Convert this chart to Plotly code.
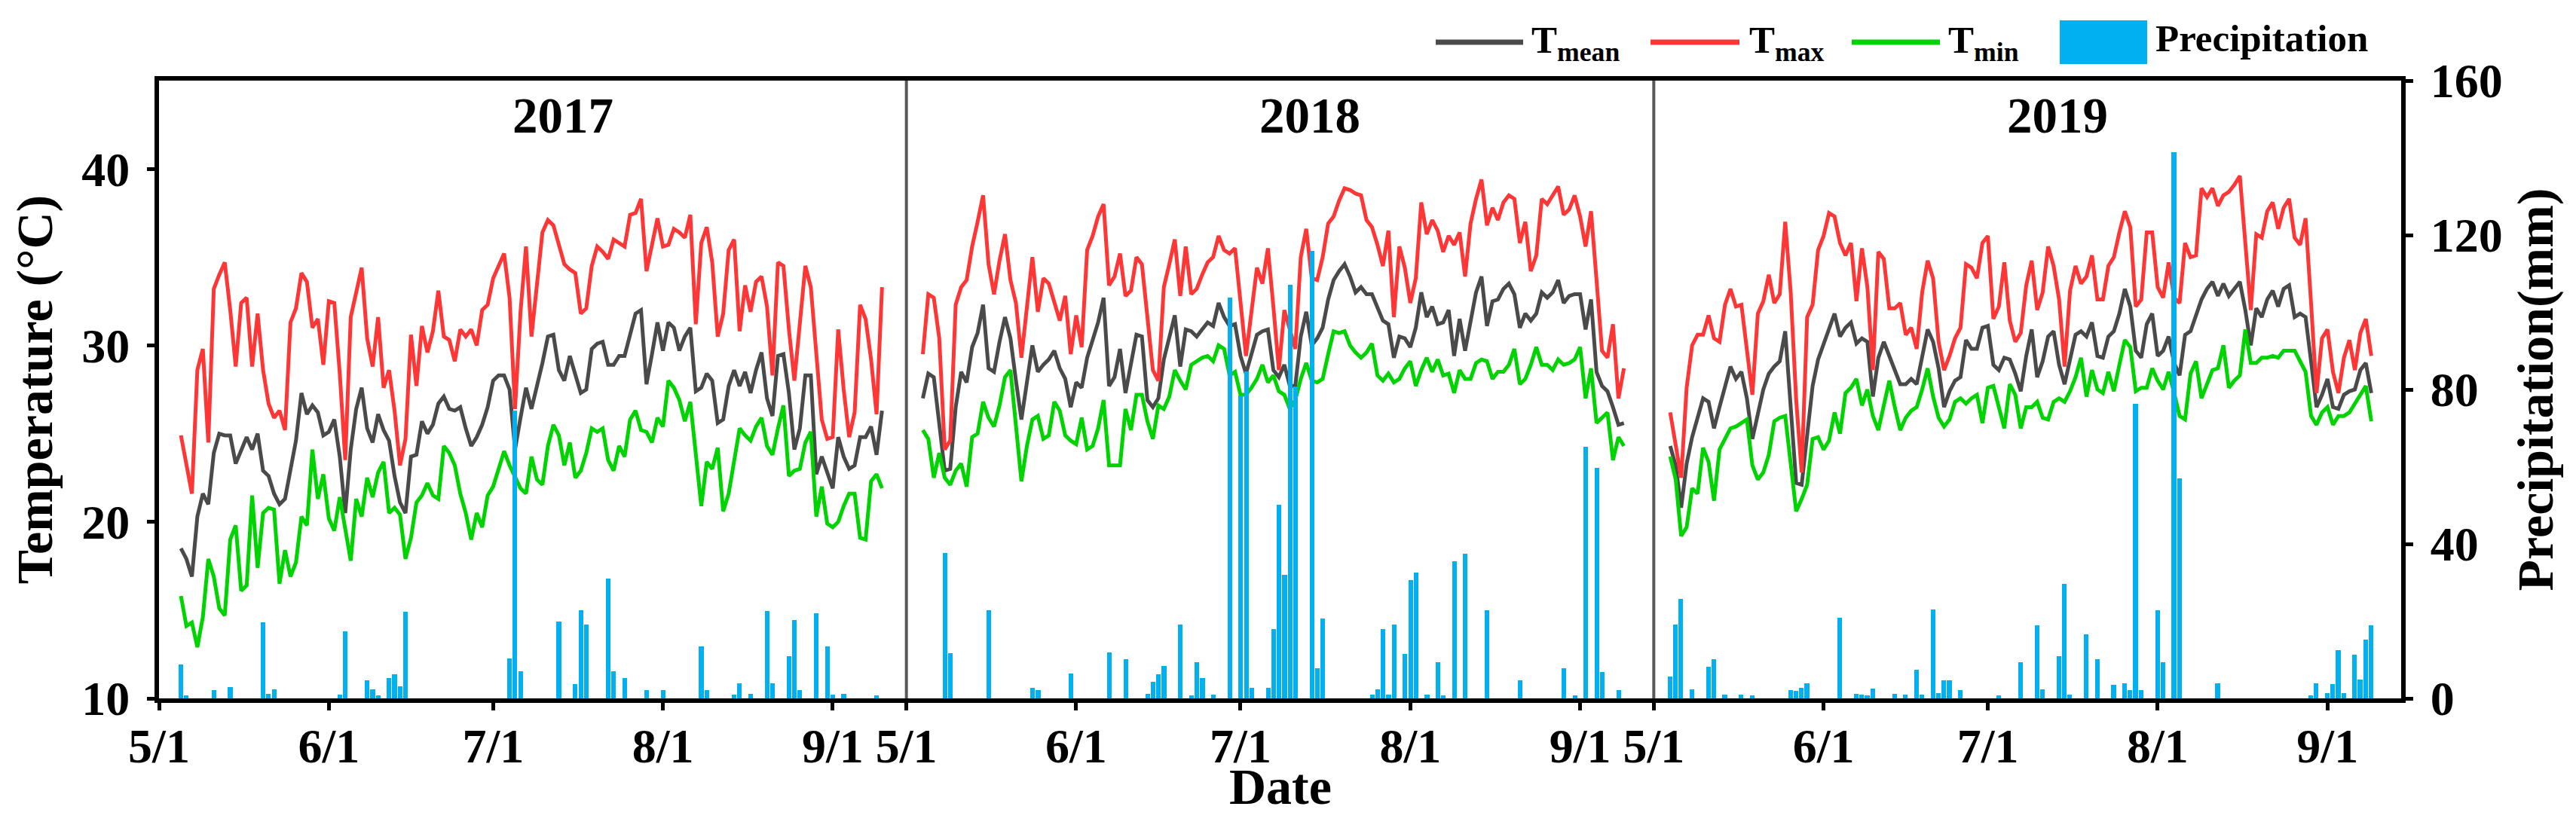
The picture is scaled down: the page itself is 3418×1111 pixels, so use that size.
import pandas as pd
import plotly.graph_objects as go

# ---------------- data ----------------
YEARS = [2017, 2018, 2019]
START = {2017: "2017-05-05", 2018: "2018-05-04", 2019: "2019-05-04"}

TMAX_2017 = [24.9, 23.1, 21.6, 28.6, 29.8, 24.5, 33.2, 34.0, 34.7, 32.0, 28.8, 32.4, 32.7, 28.8, 31.8, 28.6,
             26.7, 25.9, 26.3, 25.2, 31.3, 32.1, 34.1, 33.6, 31.0, 31.5, 28.9, 32.5, 32.4, 28.4, 23.5, 31.6,
             33.1, 34.4, 30.4, 28.8, 31.6, 27.6, 28.6, 26.3, 23.2, 24.7, 30.6, 27.7, 31.1, 29.6, 30.8, 33.1,
             30.5, 30.3, 29.1, 30.9, 30.5, 30.9, 30.0, 32.0, 32.3, 33.8, 34.5, 35.2, 32.7, 26.4, 31.9, 35.6,
             30.5, 33.5,
             36.4, 37.1, 36.8, 35.7, 34.6, 34.3, 34.1, 31.8, 32.1, 34.5, 35.6, 35.3, 34.9, 36.0, 35.8, 35.6,
             37.4, 37.5, 38.3, 34.2, 35.7, 37.2, 35.6, 35.7, 36.6, 36.4, 36.1, 37.4, 31.2, 35.8, 36.7, 34.7,
             30.5, 31.8, 35.4, 36.0, 30.8, 33.4, 31.9, 33.6, 33.9, 32.2, 28.3, 34.7, 34.5, 30.9, 28.0, 31.0,
             34.5, 33.3, 29.4, 25.8, 24.7, 24.8, 30.9, 27.5, 24.8, 26.2, 32.3, 31.5, 29.2, 26.1, 33.3]
TMEAN_2017 = [18.5, 17.9, 16.9, 20.3, 21.6, 21.0, 23.9, 25.0, 24.9, 24.9, 23.3, 24.1, 24.8, 24.1, 25.0, 22.9,
              22.6, 21.6, 21.0, 21.3, 23.0, 24.6, 27.3, 26.1, 26.6, 26.2, 24.9, 25.1, 25.8, 23.7, 20.5, 24.1,
              26.4, 27.6, 25.3, 24.5, 26.1, 25.2, 24.6, 22.6, 21.1, 20.5, 23.7, 23.8, 25.7, 25.0, 25.5, 26.7,
              27.1, 26.4, 26.3, 26.5, 25.3, 24.3, 24.8, 25.5, 26.5, 28.0, 28.3, 28.3, 27.5, 24.1, 25.9, 27.6,
              26.4, 27.6,
              29.0, 30.5, 30.6, 28.6, 28.0, 29.4, 28.3, 27.3, 27.5, 29.8, 30.1, 30.2, 28.9, 28.9, 29.4, 29.4,
              30.6, 31.8, 32.0, 27.8, 29.5, 31.3, 29.7, 31.3, 31.0, 29.7, 30.5, 31.0, 27.4, 27.6, 28.4, 28.0,
              25.6, 25.8, 27.7, 28.6, 27.7, 28.5, 27.3, 28.6, 29.6, 27.0, 26.0, 29.4, 29.5, 27.3, 24.1, 25.3,
              28.3, 28.3, 22.7, 23.7, 22.8, 21.9, 24.8, 23.7, 23.0, 23.2, 24.8, 24.8, 25.4, 23.8, 26.3]
TMIN_2017 = [15.8, 14.1, 14.3, 12.9, 14.6, 17.9, 16.9, 15.1, 14.7, 19.0, 19.8, 16.1, 16.4, 21.5, 17.4, 20.5,
             20.8, 20.7, 16.5, 18.4, 16.9, 17.7, 20.3, 19.8, 24.1, 21.3, 22.7, 20.2, 19.5, 21.4, 19.6, 17.8,
             21.3, 20.3, 22.5, 21.4, 22.8, 23.4, 20.5, 20.8, 20.4, 17.9, 19.1, 21.1, 21.5, 22.2, 21.5, 21.3,
             24.3, 23.9, 23.2, 21.6, 20.5, 19.0, 20.5, 19.7, 21.5, 22.0, 23.0, 24.0, 23.2, 22.6, 21.9, 21.6,
             23.7, 22.4,
             22.1, 24.3, 25.5, 24.9, 23.2, 24.5, 22.5, 22.9, 23.9, 25.3, 25.1, 25.3, 23.5, 22.9, 24.3, 23.7,
             25.8, 26.3, 25.2, 25.1, 24.5, 25.9, 25.4, 28.0, 27.6, 26.9, 25.7, 26.8, 23.7, 20.9, 23.4, 23.0,
             24.2, 20.6, 21.6, 23.6, 25.3, 24.9, 24.6, 25.4, 25.9, 24.3, 23.8, 25.3, 26.6, 22.6, 22.9, 23.0,
             24.5, 25.1, 20.3, 22.0, 19.9, 19.7, 20.0, 20.9, 21.6, 21.6, 19.1, 19.0, 22.3, 22.7, 21.9]
# precipitation: day offset after 1 May, and amount (mm)
P2017_DAY = [4, 5, 10, 13, 19, 20, 21, 33, 34, 38, 39, 40, 42, 43, 44, 45, 64, 65, 66, 73, 76, 77, 78, 82,
             83, 85, 89, 92, 99, 100, 105, 106, 108, 111, 112, 115, 116, 117, 120, 122, 123, 125, 131]
P2017_MM = [8.7, 0.7, 2.2, 3.0, 19.7, 1.1, 2.3, 1.0, 17.4, 4.7, 2.3, 0.7, 5.3, 6.3, 3.1, 22.5, 10.3, 74.6,
            7.1, 20.0, 3.7, 22.8, 19.2, 31.1, 7.0, 5.2, 2.1, 2.1, 13.5, 2.1, 0.9, 4.0, 1.1, 22.6, 3.9, 10.9,
            20.3, 2.1, 22.1, 13.5, 1.0, 1.1, 0.7]

TMAX_2018 = [29.5, 32.9, 32.7, 30.4, 24.1, 24.6, 32.3, 33.3, 33.7, 35.6, 37.0, 38.5, 34.6, 32.9, 34.8, 36.3,
             33.7, 32.4, 29.3, 32.2, 35.0, 31.9, 33.8, 33.5, 32.4, 31.4, 32.8, 29.5, 31.7, 29.9, 35.4, 36.2,
             37.3, 38.0, 33.4, 33.9, 35.2, 32.8, 33.1, 35.0, 34.6, 31.5, 28.6, 28.0, 33.3, 34.6, 36.0, 32.8,
             35.6, 32.9, 33.2, 34.0, 34.7, 35.0, 36.2, 35.4, 35.2, 35.5, 32.4, 29.4, 31.9, 34.4, 33.5, 35.5,
             32.2, 28.6,
             32.0, 30.8, 29.8, 35.0, 36.6, 33.8, 33.7, 35.0, 36.9, 37.3, 38.2, 38.9, 38.8, 38.6, 38.5, 37.1,
             36.7, 35.7, 34.5, 36.5, 31.6, 35.6, 34.4, 32.4, 33.8, 38.1, 36.3, 37.1, 36.5, 35.3, 36.2, 35.7,
             36.4, 33.9, 36.9, 38.3, 39.4, 36.8, 37.8, 37.1, 38.1, 38.5, 38.3, 35.8, 37.0, 34.2, 35.1, 38.3,
             38.0, 38.5, 39.0, 37.4, 37.7, 38.5, 37.3, 35.6, 37.6, 33.7, 29.7, 29.3, 31.2, 27.0, 28.7]
TMEAN_2018 = [27.0, 28.4, 28.2, 25.7, 22.9, 23.0, 26.5, 28.5, 27.9, 29.9, 30.7, 32.3, 28.7, 28.5, 30.2, 31.6,
              30.4, 28.0, 25.8, 27.9, 30.0, 28.5, 28.9, 29.2, 29.7, 28.7, 28.1, 26.5, 27.9, 27.6, 29.3, 30.3,
              31.3, 32.7, 27.7, 28.2, 29.8, 27.3, 28.9, 30.6, 30.5, 26.9, 26.5, 27.0, 29.2, 30.5, 31.7, 28.8,
              30.9, 30.8, 30.5, 30.9, 31.3, 31.1, 32.4, 31.6, 31.1, 31.2, 29.4, 28.4, 29.5, 30.6, 30.8, 30.9,
              28.6, 28.2,
              28.9, 27.7, 27.7, 30.5, 31.9, 30.0, 30.4, 31.0, 32.6, 33.7, 34.2, 34.6, 33.9, 33.0, 33.3, 32.9,
              32.9, 32.2, 31.4, 31.2, 29.3, 30.5, 30.4, 29.9, 31.0, 33.0, 31.6, 32.2, 31.2, 31.3, 32.0, 29.4,
              31.5, 29.7, 31.3, 33.0, 33.9, 31.1, 32.5, 32.6, 33.2, 33.5, 32.9, 31.0, 31.8, 31.4, 31.8, 33.0,
              32.7, 33.0, 33.7, 32.4, 32.8, 32.9, 32.9, 30.9, 32.6, 28.5, 27.7, 27.4, 26.5, 25.5, 25.6]
TMIN_2018 = [25.2, 24.7, 22.5, 23.9, 22.5, 22.1, 22.9, 23.3, 22.0, 24.8, 25.0, 26.8, 25.9, 25.4, 26.6, 28.2,
             28.6, 25.3, 22.3, 24.3, 25.8, 26.0, 24.7, 24.9, 26.8, 26.3, 24.9, 24.6, 24.4, 25.9, 24.1, 24.3,
             25.3, 26.9, 23.2, 23.2, 23.2, 26.4, 25.2, 27.2, 27.2, 25.7, 24.7, 26.6, 26.4, 27.1, 28.6, 28.0,
             27.5, 28.9, 29.1, 29.3, 29.4, 29.1, 30.0, 29.8, 28.3, 28.5, 27.2, 27.2, 27.6, 28.1, 28.9, 27.9,
             28.3, 27.4,
             27.2, 26.4, 26.9, 28.1, 29.0, 28.0, 27.9, 28.1, 29.5, 30.8, 30.7, 30.8, 30.0, 29.6, 29.3, 29.6,
             30.1, 28.3, 28.0, 28.4, 27.9, 28.1, 28.7, 29.1, 27.7, 28.6, 29.3, 28.5, 29.2, 28.3, 28.4, 27.3,
             28.6, 28.1, 28.1, 29.0, 29.2, 29.1, 28.1, 28.5, 28.5, 28.9, 29.8, 27.8, 28.1, 28.9, 29.9, 28.9,
             28.9, 28.6, 29.2, 28.9, 29.0, 29.2, 29.9, 27.0, 28.7, 25.6, 25.9, 26.2, 23.5, 24.8, 24.3]
P2018_DAY = [7, 8, 15, 23, 24, 30, 37, 40, 44, 45, 46, 47, 50, 52, 53, 54, 56, 59, 61, 62, 63, 66, 67, 68,
             69, 70, 71, 74, 75, 76, 85, 86, 87, 88, 89, 91, 92, 93, 95, 97, 98, 100, 102, 106, 112, 120,
             122, 124, 126, 127, 130]
P2018_MM = [37.6, 11.8, 22.8, 2.8, 2.2, 6.5, 11.9, 10.2, 1.2, 4.2, 6.3, 8.4, 19.1, 0.7, 9.3, 5.2, 0.9,
            103.9, 78.4, 84.7, 2.8, 2.8, 17.9, 50.1, 32.0, 107.1, 80.7, 115.9, 7.9, 20.7, 1.0, 2.4, 17.9,
            1.0, 19.2, 11.6, 30.6, 32.5, 1.0, 9.3, 0.7, 35.5, 37.4, 22.8, 4.7, 7.9, 0.7, 65.2, 59.7, 6.8, 2.2]

TMAX_2019 = [26.2, 24.3, 22.5, 27.6, 30.0, 30.6, 30.6, 31.7, 30.4, 30.2, 32.3, 33.2, 32.2, 32.3, 29.8, 27.2,
             31.8, 32.5, 34.0, 32.4, 32.9, 37.0, 33.0, 26.9, 22.8, 31.6, 32.3, 35.4, 36.2, 37.5, 37.3, 35.8,
             35.1, 35.8, 32.5, 35.5, 33.3, 28.6, 35.3, 34.9, 32.1, 32.1, 32.4, 30.6, 31.0, 29.8, 33.0, 34.8,
             33.8, 30.2, 28.6, 29.4, 30.4, 31.0, 34.6, 34.4, 33.8, 35.8, 36.2, 31.5, 32.2, 34.7, 31.4, 30.2,
             30.7, 33.4,
             34.8, 32.0, 33.0, 35.6, 34.5, 32.6, 28.8, 33.1, 34.5, 33.5, 33.9, 35.1, 32.6, 32.6, 34.5, 35.0,
             36.4, 37.6, 36.7, 32.2, 32.6, 36.4, 36.4, 33.3, 32.7, 34.7, 32.7, 32.4, 35.8, 35.0, 35.1, 38.9,
             38.4, 38.9, 37.9, 38.5, 38.7, 39.1, 39.6, 35.8, 32.0, 36.3, 36.1, 37.6, 38.1, 36.6, 37.8, 38.3,
             36.1, 35.7, 37.2, 32.4, 27.3, 30.4, 30.9, 28.5, 27.3, 29.3, 30.3, 28.6, 30.7, 31.5, 29.4]
TMEAN_2019 = [24.3, 23.2, 20.8, 23.3, 24.8, 25.9, 27.0, 26.8, 25.3, 26.5, 27.6, 28.8, 28.1, 28.5, 27.0, 24.7,
              26.1, 27.5, 28.4, 28.8, 29.1, 30.8, 26.5, 22.2, 22.1, 24.9, 27.7, 29.2, 30.1, 31.0, 31.8, 30.5,
              31.0, 31.3, 30.1, 30.4, 30.2, 27.1, 29.3, 30.2, 29.4, 28.7, 27.8, 27.8, 28.1, 27.8, 29.4, 30.9,
              30.2, 28.7, 26.5, 27.4, 28.0, 28.2, 30.3, 29.8, 29.8, 31.0, 31.1, 28.9, 28.6, 29.3, 29.2, 28.4,
              27.4, 29.4,
              30.9, 28.2, 29.1, 30.5, 30.8, 28.9, 27.8, 29.3, 30.6, 30.8, 30.5, 31.3, 29.4, 29.3, 30.5, 30.8,
              31.8, 33.2, 32.2, 29.7, 29.3, 31.2, 31.8, 29.4, 29.7, 30.5, 29.0, 28.3, 30.6, 30.8, 31.7, 32.6,
              33.2, 33.6, 32.8, 33.5, 32.8, 33.2, 33.6, 32.0, 30.0, 32.1, 31.6, 32.6, 33.1, 32.2, 33.2, 33.4,
              31.6, 31.8, 31.6, 29.1, 26.5, 27.2, 28.1, 26.5, 26.4, 27.2, 27.4, 27.5, 28.6, 29.0, 27.3]
TMIN_2019 = [23.7, 22.4, 19.2, 19.7, 21.9, 21.6, 24.2, 23.4, 21.2, 24.1, 24.7, 25.3, 25.4, 25.6, 25.8, 23.2,
             22.4, 22.8, 23.8, 25.7, 25.9, 26.0, 23.1, 20.6, 21.3, 22.1, 24.7, 24.8, 24.1, 24.6, 26.2, 25.0,
             27.3, 27.6, 28.1, 26.6, 27.5, 26.0, 25.2, 26.5, 28.0, 26.5, 25.2, 25.9, 26.3, 26.5, 27.5, 28.7,
             27.1, 25.9, 25.4, 25.8, 26.8, 27.0, 26.7, 27.0, 27.2, 25.6, 27.6, 27.7, 26.4, 25.3, 27.8, 27.2,
             25.3, 26.5,
             26.5, 26.8, 25.9, 25.8, 26.8, 27.0, 26.8, 27.4, 28.2, 29.3, 27.1, 28.6, 27.5, 27.3, 28.5, 27.4,
             28.9, 30.3, 29.9, 27.4, 27.6, 27.6, 28.7, 28.0, 27.5, 28.5, 27.3, 26.0, 25.8, 28.4, 29.1, 27.0,
             27.8, 28.6, 28.7, 30.0, 27.6, 28.0, 28.3, 30.9, 29.0, 29.0, 29.3, 29.3, 29.4, 29.3, 29.7, 29.7,
             29.7, 29.1, 28.5, 26.0, 25.5, 26.2, 26.5, 25.5, 26.0, 26.0, 26.2, 26.7, 27.2, 27.7, 25.7]
P2019_DAY = [3, 4, 5, 7, 10, 11, 13, 16, 18, 25, 26, 27, 28, 34, 37, 38, 39, 40, 44, 46, 48, 49, 51, 52,
             53, 54, 56, 63, 67, 70, 71, 74, 75, 76, 79, 81, 84, 86, 87, 88, 89, 92, 93, 95, 96, 103, 120,
             121, 123, 124, 125, 126, 128, 129, 130, 131]
P2019_MM = [5.6, 19.1, 25.7, 2.4, 8.1, 10.2, 1.0, 1.0, 0.7, 2.1, 1.9, 2.8, 3.9, 20.9, 1.2, 0.9, 0.7, 2.6,
            1.2, 0.9, 7.5, 1.0, 23.0, 1.4, 4.7, 4.7, 2.2, 0.7, 9.3, 18.9, 2.4, 10.9, 29.7, 1.0, 16.5, 10.2,
            3.5, 4.0, 2.2, 76.3, 2.2, 22.8, 9.3, 141.4, 57.0, 4.0, 0.7, 4.0, 1.4, 3.7, 12.4, 1.4, 11.4, 4.9,
            15.3, 18.9]

TMAX = {2017: TMAX_2017, 2018: TMAX_2018, 2019: TMAX_2019}
TMEAN = {2017: TMEAN_2017, 2018: TMEAN_2018, 2019: TMEAN_2019}
TMIN = {2017: TMIN_2017, 2018: TMIN_2018, 2019: TMIN_2019}
P_DAY = {2017: P2017_DAY, 2018: P2018_DAY, 2019: P2019_DAY}
P_MM = {2017: P2017_MM, 2018: P2018_MM, 2019: P2019_MM}

TEMP_TICKS = [10, 20, 30, 40]
PREC_TICKS = [0, 40, 80, 120, 160]

# ---------------- style ----------------
GRAY, RED, GREEN, BLUE = "#4a4a4a", "#ff3636", "#00d400", "#00b0f0"
FONT = "Liberation Serif"
W, H = 3418, 1111
PL, PR, PT, PB = 203, 3178, 99, 919          # plot area in pixels


def px(x):
    return (x - PL) / (PR - PL)


def py(y):
    return (PB - y) / (PB - PT)


fig = go.Figure()
xids = ["x", "x2", "x3"]
DAY_MS = 86400000

for i, yr in enumerate(YEARS):
    n = len(TMEAN[yr])
    dates = pd.date_range(START[yr], periods=n, freq="D")
    for vals, col, nm in [(TMEAN[yr], GRAY, "Tmean"), (TMAX[yr], RED, "Tmax"), (TMIN[yr], GREEN, "Tmin")]:
        fig.add_trace(go.Scatter(x=dates, y=vals, xaxis=xids[i], yaxis="y", mode="lines",
                                 line=dict(color=col, width=5), name=nm, showlegend=False))
    pdates = pd.Timestamp(f"{yr}-05-01") + pd.to_timedelta(P_DAY[yr], unit="D")
    fig.add_trace(go.Bar(x=pdates, y=P_MM[yr], xaxis=xids[i], yaxis="y2", width=0.85 * DAY_MS,
                         marker=dict(color=BLUE, line=dict(width=0)), name="Precipitation",
                         showlegend=False))

tickfont = dict(family=FONT, size=64, color="black", weight="bold")
titlefont = dict(family=FONT, size=68, color="black", weight="bold")

layout = dict(
    width=W, height=H,
    margin=dict(l=PL, r=W - PR, t=PT, b=H - PB, autoexpand=False),
    paper_bgcolor="white", plot_bgcolor="white",
    showlegend=False, bargap=0,
    font=dict(family=FONT, color="black"),
)
domains = [[0, 1 / 3], [1 / 3, 2 / 3], [2 / 3, 1]]
for i, yr in enumerate(YEARS):
    key = "xaxis" if i == 0 else f"xaxis{i + 1}"
    layout[key] = dict(domain=domains[i], type="date", anchor="y",
                       range=[f"{yr}-05-01", f"{yr}-09-14 10:48"],
                       tick0=f"{yr}-05-01", dtick="M1", tickformat="%-m/%-d",
                       ticks="outside", ticklen=10, tickwidth=5, tickcolor="black",
                       showline=True, linecolor="black", linewidth=6, mirror=True,
                       showgrid=False, zeroline=False, tickfont=tickfont, ticklabelstandoff=-8,
                       automargin=False)

layout["yaxis"] = dict(domain=[0, 1], anchor="x", side="left", range=[10, 45], tickvals=TEMP_TICKS,
                       ticks="outside", ticklen=10, tickwidth=5, tickcolor="black",
                       showline=True, linecolor="black", linewidth=6, showgrid=False, zeroline=False,
                       tickfont=tickfont, ticklabelstandoff=10, automargin=False,
                       title=dict(text="Temperature (\u00b0C)", font=titlefont, standoff=18))
layout["yaxis2"] = dict(overlaying="y", anchor="x3", side="right", range=[0, 160], tickvals=PREC_TICKS,
                        ticks="outside", ticklen=10, tickwidth=5, tickcolor="black",
                        showline=True, linecolor="black", linewidth=6, showgrid=False, zeroline=False,
                        tickfont=tickfont, ticklabelstandoff=10, automargin=False,
                        title=dict(text="Precipitation(mm)", font=titlefont, standoff=22))

shapes = []
# panel dividers
for xd in (1 / 3, 2 / 3):
    shapes.append(dict(type="line", xref="paper", yref="paper", x0=xd, x1=xd, y0=0, y1=1,
                       line=dict(color="#595959", width=4), layer="above"))
annotations = []
# year labels
for i, yr in enumerate(YEARS):
    annotations.append(dict(text=str(yr), xref=f"{xids[i]} domain", yref="paper", x=0.54, y=py(145),
                            xanchor="center", yanchor="middle", showarrow=False,
                            font=dict(family=FONT, size=67, color="black", weight="bold")))
# shared x-axis title
annotations.append(dict(text="Date", xref="paper", yref="paper", x=0.5, y=py(1036),
                        xanchor="center", yanchor="middle", showarrow=False, font=titlefont))

# legend (drawn manually to match the long line keys)
legfont = dict(family=FONT, size=51, color="black", weight="bold")
LEG_Y = 48
for label, col, x0, x1, xt in [("T<sub>mean</sub>", GRAY, 1897, 2013, 2022),
                               ("T<sub>max</sub>", RED, 2182, 2300, 2311),
                               ("T<sub>min</sub>", GREEN, 2449, 2566, 2575)]:
    shapes.append(dict(type="line", xref="paper", yref="paper", x0=px(x0), x1=px(x1),
                       y0=py(LEG_Y), y1=py(LEG_Y), line=dict(color=col, width=7)))
    annotations.append(dict(text=label, xref="paper", yref="paper", x=px(xt), y=py(49),
                            xanchor="left", yanchor="middle", showarrow=False, font=legfont))
shapes.append(dict(type="rect", xref="paper", yref="paper", x0=px(2725), x1=px(2841),
                   y0=py(77), y1=py(19), fillcolor=BLUE, line=dict(width=0)))
annotations.append(dict(text="Precipitation", xref="paper", yref="paper", x=px(2850), y=py(43),
                        xanchor="left", yanchor="middle", showarrow=False, font=legfont))

layout["shapes"] = shapes
layout["annotations"] = annotations
fig.update_layout(**layout)
fig.write_html("out.html")
